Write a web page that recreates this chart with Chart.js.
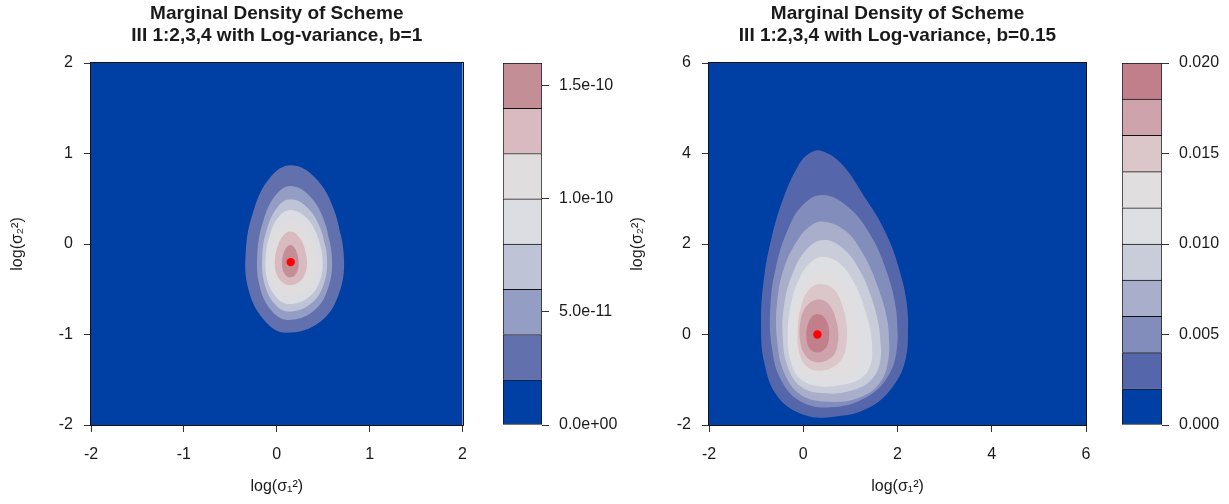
<!DOCTYPE html>
<html>
<head>
<meta charset="utf-8">
<script src="https://cdn.jsdelivr.net/npm/chart.js@4.4.1/dist/chart.umd.min.js"></script>
<style>
  html, body { margin: 0; padding: 0; background: #fff; }
  #wrap { position: relative; width: 1229px; height: 504px; overflow: hidden; }
  canvas { position: absolute; top: 0; }
</style>
</head>
<body>
<div id="wrap">
  <canvas id="plot-left" width="480" height="504" style="left:0px"></canvas>
  <canvas id="bar-left" width="145" height="504" style="left:480px"></canvas>
  <canvas id="plot-right" width="480" height="504" style="left:625px"></canvas>
  <canvas id="bar-right" width="124" height="504" style="left:1105px"></canvas>
</div>
<script>
// Marginal density contour plots (two panels) with their colour keys

const FONT = 'Liberation Sans, Arial, Helvetica, sans-serif';
const INK = '#1a1a1a';
const TICK_INK = '#333';
const EDGE = '#111';

// ---- axes / ticks ----
const LEFT_X_TICKS = [-2, -1, 0, 1, 2];
const LEFT_Y_TICKS = [-2, -1, 0, 1, 2];
const RIGHT_X_TICKS = [-2, 0, 2, 4, 6];
const RIGHT_Y_TICKS = [-2, 0, 2, 4, 6];

// ---- contour levels and band colours (lowest band first) ----
const LEFT_LEVELS = [0, 2e-11, 4e-11, 6e-11, 8e-11, 1.0e-10, 1.2e-10, 1.4e-10, 1.6e-10];
const LEFT_COLORS = ['#003FA3', '#6270AE', '#949DC4', '#BFC3D6', '#DCDDE2', '#E0DDDE', '#D9BAC0', '#C48E97'];
const LEFT_BAR_TICKS = [0, 5e-11, 1.0e-10, 1.5e-10];
const LEFT_BAR_LABELS = ['0.0e+00', '5.0e-11', '1.0e-10', '1.5e-10'];

const RIGHT_LEVELS = [0, 0.002, 0.004, 0.006, 0.008, 0.010, 0.012, 0.014, 0.016, 0.018, 0.020];
const RIGHT_COLORS = ['#003FA3', '#5566AA', '#838DBC', '#A9AFCB', '#C9CCD9', '#DEDFE2', '#E1DEDF', '#DBC6CA', '#CEA3AB', '#C07F8A'];
const RIGHT_BAR_TICKS = [0, 0.005, 0.010, 0.015, 0.020];
const RIGHT_BAR_LABELS = ['0.000', '0.005', '0.010', '0.015', '0.020'];

// ---- contour outlines (x, y) ----
// left panel, b=1
const LEFT_C1 = [[0.72,-0.10],[0.614,0.385],[0.405,0.74],[0.15,0.87],[-0.067,0.74],[-0.245,0.385],[-0.335,-0.10],[-0.295,-0.54],[-0.118,-0.862],[0.10,-0.98],[0.465,-0.862],[0.673,-0.54]];
const LEFT_C2 = [[0.592,-0.12],[0.509,0.26],[0.346,0.538],[0.146,0.641],[-0.013,0.538],[-0.144,0.26],[-0.21,-0.12],[-0.181,-0.48],[-0.051,-0.744],[0.12,-0.84],[0.392,-0.744],[0.555,-0.48]];
const LEFT_C3 = [[0.539,-0.13],[0.466,0.182],[0.322,0.41],[0.146,0.494],[0.01,0.41],[-0.101,0.182],[-0.157,-0.13],[-0.132,-0.439],[-0.021,-0.664],[0.13,-0.747],[0.363,-0.664],[0.507,-0.439]];
const LEFT_C4 = [[0.492,-0.15],[0.428,0.113],[0.301,0.306],[0.146,0.376],[0.026,0.306],[-0.071,0.113],[-0.121,-0.15],[-0.099,-0.407],[-0.001,-0.594],[0.13,-0.663],[0.337,-0.594],[0.464,-0.407]];
const LEFT_C5 = [[0.43,-0.17],[0.377,0.04],[0.273,0.194],[0.146,0.25],[0.049,0.194],[-0.03,0.04],[-0.07,-0.17],[-0.052,-0.375],[0.027,-0.525],[0.14,-0.58],[0.303,-0.525],[0.407,-0.375]];
const LEFT_C6 = [[0.325,-0.18],[0.292,-0.021],[0.226,0.095],[0.146,0.137],[0.071,0.095],[0.01,-0.021],[-0.021,-0.18],[-0.007,-0.317],[0.054,-0.416],[0.146,-0.453],[0.245,-0.416],[0.31,-0.317]];
const LEFT_C7 = [[0.235,-0.19],[0.218,-0.10],[0.186,-0.035],[0.146,-0.011],[0.106,-0.035],[0.074,-0.10],[0.057,-0.19],[0.064,-0.279],[0.097,-0.344],[0.146,-0.368],[0.195,-0.344],[0.228,-0.279]];
const LEFT_MODE = [0.15, -0.2];

// right panel, b=0.15
const RIGHT_C1 = [[2.218,0.468],[2.183,-0.490],[1.899,-1.153],[1.368,-1.632],[0.661,-1.816],[0.024,-1.779],[-0.542,-1.374],[-0.825,-0.637],[-0.896,0.247],[-0.839,1.204],[-0.684,2.088],[-0.436,2.972],[-0.118,3.709],[0.130,4.004],[0.378,4.063],[0.802,3.783],[1.298,3.046],[1.722,2.309],[2.041,1.425]];
const RIGHT_C2 = [[1.970,0.541],[1.991,-0.269],[1.793,-0.932],[1.298,-1.411],[0.590,-1.610],[-0.047,-1.485],[-0.471,-1.006],[-0.669,-0.269],[-0.698,0.615],[-0.578,1.499],[-0.330,2.309],[-0.011,2.862],[0.413,3.083],[0.944,2.825],[1.404,2.236],[1.758,1.425]];
const RIGHT_C3 = [[1.793,0.247],[1.814,-0.490],[1.616,-1.080],[1.156,-1.411],[0.520,-1.485],[-0.047,-1.337],[-0.400,-0.858],[-0.556,-0.122],[-0.556,0.689],[-0.400,1.499],[-0.118,2.088],[0.130,2.383],[0.413,2.493],[0.873,2.309],[1.263,1.794],[1.581,1.057]];
const RIGHT_C4 = [[1.616,0.100],[1.638,-0.564],[1.440,-1.006],[1.015,-1.241],[0.449,-1.300],[-0.047,-1.153],[-0.330,-0.711],[-0.436,-0.048],[-0.400,0.689],[-0.224,1.352],[0.059,1.867],[0.413,2.088],[0.802,1.941],[1.156,1.499],[1.440,0.836]];
const RIGHT_C5 = [[1.454,-0.122],[1.440,-0.637],[1.227,-0.968],[0.802,-1.116],[0.307,-1.138],[-0.082,-0.968],[-0.273,-0.564],[-0.330,0.026],[-0.259,0.689],[-0.082,1.241],[0.151,1.587],[0.413,1.720],[0.767,1.573],[1.086,1.131],[1.312,0.541]];
const RIGHT_C6 = [[1.213,-0.232],[1.171,-0.674],[0.980,-0.910],[0.661,-0.991],[0.236,-0.968],[-0.082,-0.785],[-0.202,-0.416],[-0.224,0.100],[-0.132,0.689],[0.095,1.168],[0.378,1.426],[0.732,1.278],[0.980,0.873],[1.142,0.320]];
const RIGHT_C7 = [[0.930,0.100],[0.888,-0.379],[0.697,-0.674],[0.378,-0.799],[0.095,-0.726],[-0.082,-0.416],[-0.118,0.100],[-0.047,0.615],[0.130,0.998],[0.378,1.116],[0.661,0.983],[0.838,0.615]];
const RIGHT_C8 = [[0.746,-0.085],[0.675,-0.416],[0.484,-0.578],[0.237,-0.601],[0.038,-0.453],[-0.068,-0.122],[-0.061,0.284],[0.059,0.615],[0.321,0.777],[0.555,0.652],[0.696,0.320]];
const RIGHT_C9 = [[0.548,0.100],[0.534,-0.158],[0.435,-0.343],[0.272,-0.394],[0.130,-0.306],[0.066,-0.048],[0.095,0.210],[0.180,0.394],[0.307,0.453],[0.463,0.357]];
const RIGHT_MODE = [0.3, 0.0];

const LEFT_CONTOURS = [LEFT_C1, LEFT_C2, LEFT_C3, LEFT_C4, LEFT_C5, LEFT_C6, LEFT_C7];
const RIGHT_CONTOURS = [RIGHT_C1, RIGHT_C2, RIGHT_C3, RIGHT_C4, RIGHT_C5, RIGHT_C6, RIGHT_C7, RIGHT_C8, RIGHT_C9];

// repeat the first two points so the smoothed outline closes without a kink
const closedLoop = pairs => [...pairs, pairs[0], pairs[1]].map(([x, y]) => ({ x, y }));

// fills the plotting region with the lowest band and draws the frame
const plotFrame = {
    id: 'plotFrame',
    beforeDatasetsDraw(chart, args, opts) {
        const { ctx, chartArea: a } = chart;
        ctx.save();
        ctx.fillStyle = opts.color;
        ctx.fillRect(a.left, a.top, a.right - a.left, a.bottom - a.top);
        ctx.restore();
    },
    afterDatasetsDraw(chart) {
        const { ctx, chartArea: a } = chart;
        ctx.save();
        ctx.strokeStyle = EDGE;
        ctx.lineWidth = 1;
        ctx.strokeRect(Math.round(a.left) - 0.5, Math.round(a.top) - 0.5,
            Math.round(a.right - a.left) + 1, Math.round(a.bottom - a.top) + 1);
        ctx.restore();
    }
};

function tickFont() { return { family: FONT, size: 16 }; }

function linearAxis(ticks, titleText, fit, tickPad, titlePad) {
    return {
        type: 'linear',
        min: ticks[0],
        max: ticks[ticks.length - 1],
        afterBuildTicks: s => { s.ticks = ticks.map(v => ({ value: v })); },
        afterFit: fit,
        grid: { drawOnChartArea: false, drawTicks: true, tickLength: 7, color: TICK_INK, lineWidth: 1 },
        border: { display: false },
        ticks: { font: tickFont(), color: INK, padding: tickPad, maxRotation: 0, autoSkip: false,
                 callback: (v, i) => String(ticks[i]) },
        title: { display: true, text: titleText, font: { family: FONT, size: 16 }, color: INK, padding: titlePad }
    };
}

function contourChart(id, cfg) {
    const n = cfg.contours.length;
    const datasets = cfg.contours.map((pairs, i) => ({
        data: closedLoop(pairs),
        showLine: true,
        fill: 'shape',
        backgroundColor: cfg.colors[i + 1],
        borderColor: 'rgba(0,0,0,0)',
        borderWidth: 0,
        pointRadius: 0,
        tension: 0.4,
        order: n - i + 1
    }));
    datasets.push({
        data: [{ x: cfg.mode[0], y: cfg.mode[1] }],
        pointRadius: 4.2,
        pointBackgroundColor: '#FF0000',
        pointBorderWidth: 0,
        order: 0
    });

    return new Chart(document.getElementById(id), {
        type: 'scatter',
        data: { datasets },
        options: {
            responsive: false,
            animation: false,
            events: [],
            layout: { padding: { left: 0, right: cfg.padRight, top: 0, bottom: 0 } },
            plugins: {
                legend: { display: false },
                tooltip: { enabled: false },
                title: {
                    display: true,
                    text: cfg.title,
                    fullSize: false,
                    color: INK,
                    font: { family: FONT, size: 19, weight: 'bold', lineHeight: 1.2 },
                    padding: { top: 2, bottom: 15.4 }
                },
                plotFrame: { color: cfg.colors[0] }
            },
            scales: {
                x: linearAxis(cfg.xTicks, 'log(σ\u2081\u00b2)', s => { s.height = 79; }, 13, { top: 0, bottom: 7.4 }),
                y: linearAxis(cfg.yTicks, 'log(σ\u2082\u00b2)', s => { s.width = cfg.yWidth; }, 11, { top: cfg.yTitlePad, bottom: 0 })
            }
        },
        plugins: [plotFrame]
    });
}

function colorKey(id, cfg) {
    const datasets = cfg.colors.map((c, i) => ({
        data: [[cfg.levels[i], cfg.levels[i + 1]]],
        backgroundColor: c,
        borderColor: EDGE,
        borderWidth: 1,
        borderSkipped: i === 0 ? false : 'start',
        grouped: false,
        barPercentage: 1,
        categoryPercentage: 1
    }));
    return new Chart(document.getElementById(id), {
        type: 'bar',
        data: { labels: [''], datasets },
        options: {
            responsive: false,
            animation: false,
            events: [],
            layout: { padding: { left: cfg.padLeft, right: 0, top: 63, bottom: 79 } },
            plugins: { legend: { display: false }, tooltip: { enabled: false } },
            scales: {
                x: { display: false },
                y: {
                    position: 'right',
                    min: cfg.levels[0],
                    max: cfg.levels[cfg.levels.length - 1],
                    afterBuildTicks: s => { s.ticks = cfg.ticks.map(v => ({ value: v })); },
                    afterFit: s => { s.width = cfg.axisWidth; },
                    grid: { drawOnChartArea: false, drawTicks: true, tickLength: 7, color: TICK_INK, lineWidth: 1 },
                    border: { display: false },
                    ticks: { font: tickFont(), color: INK, padding: 10, autoSkip: false,
                             callback: (v, i) => cfg.labels[i] }
                }
            }
        }
    });
}

contourChart('plot-left', {
    title: ['Marginal Density of Scheme', 'III 1:2,3,4 with Log-variance, b=1'],
    contours: LEFT_CONTOURS, colors: LEFT_COLORS, mode: LEFT_MODE,
    xTicks: LEFT_X_TICKS, yTicks: LEFT_Y_TICKS,
    yWidth: 91, yTitlePad: 7.7, padRight: 15
});
colorKey('bar-left', {
    levels: LEFT_LEVELS, colors: LEFT_COLORS, ticks: LEFT_BAR_TICKS, labels: LEFT_BAR_LABELS,
    padLeft: 23, axisWidth: 83
});
contourChart('plot-right', {
    title: ['Marginal Density of Scheme', 'III 1:2,3,4 with Log-variance, b=0.15'],
    contours: RIGHT_CONTOURS, colors: RIGHT_COLORS, mode: RIGHT_MODE,
    xTicks: RIGHT_X_TICKS, yTicks: RIGHT_Y_TICKS,
    yWidth: 84, yTitlePad: 2.7, padRight: 19
});
colorKey('bar-right', {
    levels: RIGHT_LEVELS, colors: RIGHT_COLORS, ticks: RIGHT_BAR_TICKS, labels: RIGHT_BAR_LABELS,
    padLeft: 17, axisWidth: 67
});
</script>
</body>
</html>
